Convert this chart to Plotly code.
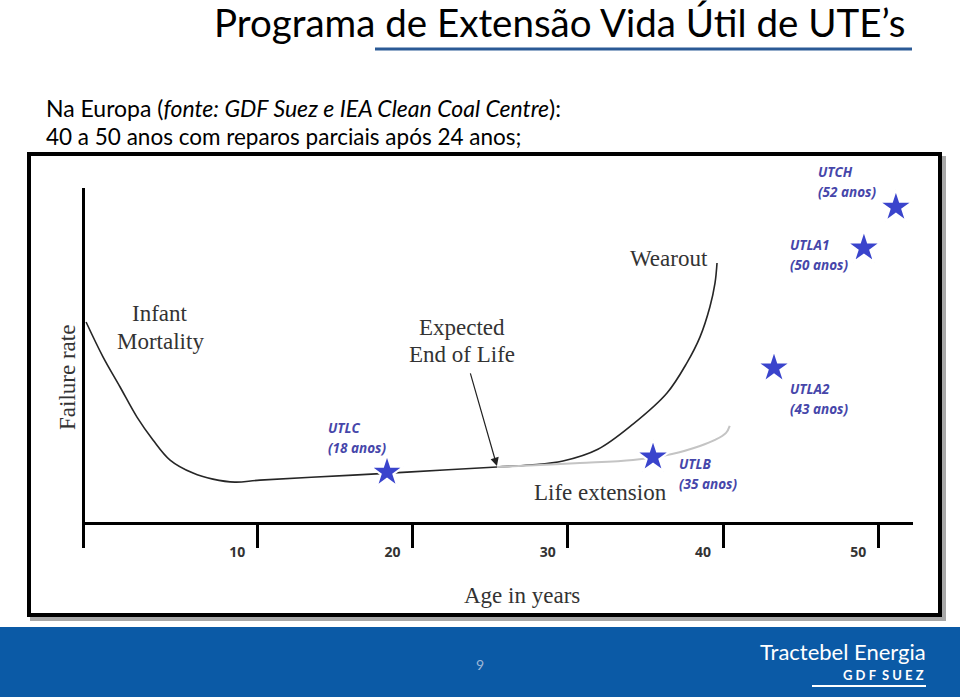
import plotly.graph_objects as go

W, H = 960, 697

# ---------------- data (axis units: age in years, relative failure rate) ----------------
tick_years = [10, 20, 30, 40, 50]
tick_labels = ["10", "20", "30", "40", "50"]

bathtub_age = [-1.02, 0.07, 1.17, 2.26, 3.29, 4.39, 5.87, 7.15, 8.57, 10.18, 16.17, 19.65,
               25.44, 27.57, 29.69, 31.94, 34.20, 36.39, 37.67, 38.51, 39.15, 39.48, 39.61]
bathtub_rate = [6.00, 4.96, 4.06, 3.16, 2.48, 1.88, 1.49, 1.31, 1.22, 1.28, 1.43, 1.52,
                1.67, 1.73, 1.85, 2.20, 2.95, 3.88, 4.78, 5.55, 6.45, 7.16, 7.76]

extension_age = [25.44, 28.21, 30.78, 34.20, 36.71, 38.51, 39.48, 40.19, 40.43]
extension_rate = [1.67, 1.73, 1.79, 1.88, 2.06, 2.30, 2.48, 2.69, 2.90]

plant_names = ["UTLC", "UTLB", "UTLA2", "UTLA1", "UTCH"]
plant_ages_txt = ["(18 anos)", "(35 anos)", "(43 anos)", "(50 anos)", "(52 anos)"]
plant_x = [18.36, 35.49, 43.28, 49.07, 51.13]
plant_rate = [1.52, 1.97, 4.63, 8.21, 9.43]

arrow_tail = (23.70, 4.51)
arrow_head = (25.44, 1.70)


def P(px, py):
    return px / W, 1 - py / H


fig = go.Figure()

fig.add_trace(go.Scatter(x=bathtub_age, y=bathtub_rate, mode="lines",
                         line=dict(color="#262626", width=1.6, shape="spline", smoothing=1.0),
                         hoverinfo="skip", showlegend=False))
fig.add_trace(go.Scatter(x=extension_age, y=extension_rate, mode="lines",
                         line=dict(color="#c4c4c4", width=2, shape="spline", smoothing=1.0),
                         hoverinfo="skip", showlegend=False))
fig.add_trace(go.Scatter(x=plant_x, y=plant_rate, mode="markers",
                         marker=dict(symbol="star", size=25, color="#3a44cc",
                                     line=dict(color="white", width=2)),
                         text=plant_names, showlegend=False, cliponaxis=False))

x0, y0 = P(85, 548)
x1, y1 = P(913, 188)
fig.update_layout(
    width=W, height=H, margin=dict(l=0, r=0, t=0, b=0),
    paper_bgcolor="white", plot_bgcolor="rgba(0,0,0,0)",
    xaxis=dict(domain=[x0, x1], range=[-1.088, 52.23], showgrid=False, zeroline=False,
               showline=False, ticks="inside", ticklen=25, tickwidth=3, tickcolor="black",
               tickvals=tick_years, ticktext=tick_labels, ticklabelshift=-20,
               ticklabelstandoff=-6,
               tickfont=dict(family="Open Sans", size=14, color="#333333", weight="bold")),
    yaxis=dict(domain=[y0, y1], range=[-0.746, 10.0], showgrid=False, showticklabels=False,
               ticks="", showline=True, linewidth=3, linecolor="black",
               zeroline=True, zerolinewidth=3, zerolinecolor="black"),
)

shapes = []
# picture frame with shadow
fx0, fy0 = P(32, 158)
fx1, fy1 = P(944, 619)
shapes.append(dict(type="rect", xref="paper", yref="paper", x0=fx0, y0=fy1, x1=fx1, y1=fy0,
                   line=dict(color="#a8a8a8", width=4), layer="below"))
fx0, fy0 = P(29, 154)
fx1, fy1 = P(940, 615)
shapes.append(dict(type="rect", xref="paper", yref="paper", x0=fx0, y0=fy1, x1=fx1, y1=fy0,
                   line=dict(color="black", width=4), fillcolor="white", layer="below"))
# title underline
ux0, uy = P(375, 49)
ux1, _ = P(912, 49)
shapes.append(dict(type="line", xref="paper", yref="paper", x0=ux0, y0=uy, x1=ux1, y1=uy,
                   line=dict(color="#2b5a96", width=3)))
# footer band
bx0, by0 = P(0, 627)
bx1, by1 = P(960, 697)
shapes.append(dict(type="rect", xref="paper", yref="paper", x0=bx0, y0=by1, x1=bx1, y1=by0,
                   line=dict(width=0), fillcolor="#0b5aa6", layer="below"))
# logo swoosh
sx0, sy = P(812, 686)
sx1, _ = P(926, 686)
shapes.append(dict(type="line", xref="paper", yref="paper", x0=sx0, y0=sy, x1=sx1, y1=sy,
                   line=dict(color="white", width=2)))
fig.update_layout(shapes=shapes)

ann = []


def text(px, py, s, size, color, family, xanchor="center", angle=0):
    x, y = P(px, py)
    ann.append(dict(x=x, y=y, xref="paper", yref="paper", text=s, showarrow=False,
                    xanchor=xanchor, yanchor="middle", textangle=angle,
                    font=dict(size=size, color=color, family=family)))


# slide texts
text(907, 22, "Programa de Extensão Vida Útil de UTE’s", 38.5, "black", "Lato", xanchor="right")
text(44, 108, "Na Europa (<i>fonte: GDF Suez e IEA Clean Coal Centre</i>):", 23, "black", "Lato", xanchor="left")
text(44, 137, "40 a 50 anos com reparos parciais após 24 anos;", 22.5, "black", "Lato", xanchor="left")

# chart labels (serif)
serif = "Liberation Serif"
gray = "#333333"
text(160, 313, "Infant", 23, gray, serif)
text(160, 341, "Mortality", 23, gray, serif)
text(462, 327, "Expected", 23, gray, serif)
text(462, 354, "End of Life", 23, gray, serif)
text(669, 258, "Wearout", 23, gray, serif)
text(600, 492, "Life extension", 23, gray, serif)
text(522, 595, "Age in years", 23, gray, serif)
text(67, 378, "Failure rate", 23, gray, serif, angle=-90)

# plant labels
label_pos = [(326, 428), (677, 464), (788, 389), (788, 245), (816, 172)]
blue = "#4646aa"
for (lx, ly), name, age in zip(label_pos, plant_names, plant_ages_txt):
    text(lx, ly, "<b><i>" + name + "</i></b>", 13.5, blue, "Open Sans", xanchor="left")
    text(lx, ly + 20, "<b><i>" + age + "</i></b>", 13.5, blue, "Open Sans", xanchor="left")

# footer
text(480, 664, "9", 14, "#9db6d6", "Lato")
text(928, 651, "Tractebel Energia", 22, "white", "Lato", xanchor="right")
text(926, 675, "<b>G D F  S U E Z</b>", 13, "white", "Lato", xanchor="right")

ann.append(dict(x=arrow_head[0], y=arrow_head[1], ax=arrow_tail[0], ay=arrow_tail[1],
                xref="x", yref="y", axref="x", ayref="y", showarrow=True, text="",
                arrowhead=2, arrowsize=1.4, arrowwidth=1.2, arrowcolor="#222222"))

fig.update_layout(annotations=ann)
fig.write_html("out.html", config={"displayModeBar": False},
               post_script="document.body.style.margin='0px';document.body.style.overflow='hidden';")
